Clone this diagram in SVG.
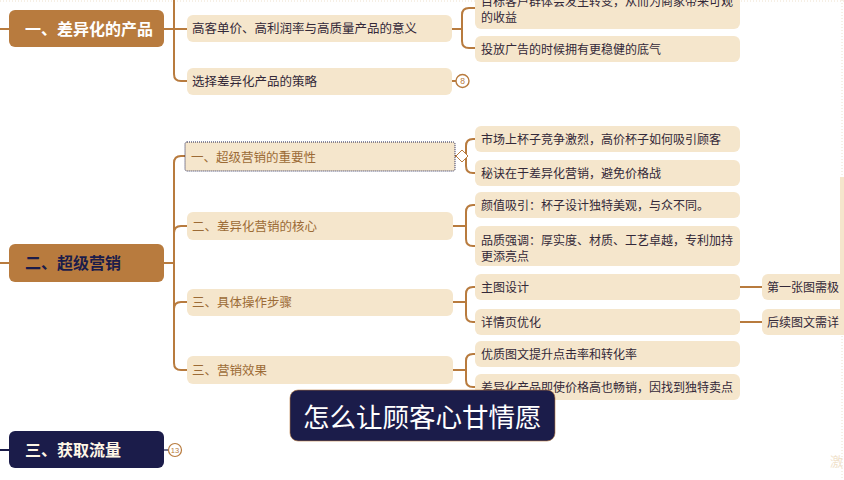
<svg xmlns="http://www.w3.org/2000/svg" width="844" height="480" viewBox="0 0 844 480">
<style>
.root{fill:#B87B3E}
.rootn{fill:#1B1C4A}
.node{fill:#F5E6CC}
.t{font-family:"Noto Sans CJK SC","Noto Sans",sans-serif;font-size:12px;fill:#332838}
.tb{font-family:"Noto Sans CJK SC","Noto Sans",sans-serif;font-size:12.5px;fill:#9C6B36}
.rt{font-family:"Noto Sans CJK SC","Noto Sans",sans-serif;font-size:16px;font-weight:bold}
.c{fill:none;stroke:#B87B3E;stroke-width:2}
.fold{fill:#fff;stroke:#B87B3E;stroke-width:1.4}
.ft{font-family:"Liberation Sans",sans-serif;font-size:8.5px;fill:#B87B3E;text-anchor:middle}
</style>
<rect width="844" height="480" fill="#fff"/>
<line x1="0" y1="1" x2="844" y2="1" stroke="#EDE0CC" stroke-dasharray="1,2"/>
<line x1="842" y1="0" x2="842" y2="480" stroke="#EDE0CC" stroke-dasharray="1,2"/>
<rect x="840" y="177" width="4" height="143" fill="#F5E6CC"/>
<text x="830" y="466" class="t" style="fill:#F0E2CC;font-size:13px">激</text>

<g id="connectors">
  <path class="c" d="M0 29H9"/>
  <path class="c" d="M164 29H187"/>
  <path class="c" d="M174 0V74Q174 81 181 81H187"/>
  <path class="c" d="M452 29H462"/>
  <path class="c" d="M475 8H469Q462 8 462 15V41Q462 48 469 48H475"/>
  <path class="c" d="M452 81H456"/>
  <path class="c" d="M0 263H9"/>
  <path class="c" d="M164 263H174"/>
  <path class="c" d="M186 156H181Q174 156 174 163V363Q174 370 181 370H187"/>
  <path class="c" d="M187 226H181Q174 226 174 233"/>
  <path class="c" d="M187 302H181Q174 302 174 309"/>
  <path class="c" d="M455 156H466"/>
  <path class="c" d="M475 139H473Q466 139 466 146V166Q466 173 473 173H475"/>
  <path class="c" d="M453 226H466"/>
  <path class="c" d="M475 205H473Q466 205 466 212V239Q466 246 473 246H475"/>
  <path class="c" d="M453 302H466"/>
  <path class="c" d="M475 287H473Q466 287 466 294V315Q466 322 473 322H475"/>
  <path class="c" d="M740 287H762"/>
  <path class="c" d="M740 322H762"/>
  <path class="c" d="M453 370H466"/>
  <path class="c" d="M475 354H473Q466 354 466 361V380Q466 387 473 387H475"/>
  <path d="M0 450H9" stroke="#1B1C4A" stroke-width="2"/>
  <path d="M164 450H168" stroke="#1B1C4A" stroke-width="1.2"/>
</g>

<g id="n1">
  <rect class="root" x="9" y="10" width="155" height="37" rx="6"/>
  <text class="rt" x="25" y="35" fill="#fff">一、差异化的产品</text>
</g>
<g id="n1-1">
  <rect class="node" x="187" y="15" width="265" height="27" rx="6"/>
  <text class="t" x="192" y="33" style="font-size:12.5px">高客单价、高利润率与高质量产品的意义</text>
</g>
<g id="n1-1-1">
  <rect class="node" x="475" y="-12" width="265" height="41" rx="6"/>
  <text class="t" x="481" y="6">目标客户群体会发生转变，从而为商家带来可观</text>
  <text class="t" x="481" y="22">的收益</text>
</g>
<g id="n1-1-2">
  <rect class="node" x="475" y="36" width="265" height="26" rx="6"/>
  <text class="t" x="481" y="54">投放广告的时候拥有更稳健的底气</text>
</g>
<g id="n1-2">
  <rect class="node" x="187" y="68" width="265" height="27" rx="6"/>
  <text class="t" x="192" y="86" style="font-size:12.5px">选择差异化产品的策略</text>
  <circle class="fold" cx="462.5" cy="81" r="6.5"/>
  <text class="ft" x="462.5" y="84">8</text>
</g>

<g id="n2">
  <rect class="root" x="9" y="244" width="155" height="38" rx="6"/>
  <text class="rt" x="25" y="269" fill="#1B1C4A">二、超级营销</text>
</g>
<g id="n2-1">
  <rect class="node" x="185" y="142" width="270" height="29" rx="2" stroke="#1B1C4A" stroke-width="1" stroke-dasharray="1,1"/>
  <text class="tb" x="191" y="162">一、超级营销的重要性</text>
  <path d="M462 150L468 156L462 162L456 156Z" fill="#fff" stroke="#B87B3E" stroke-width="1"/>
</g>
<g id="n2-1-1">
  <rect class="node" x="475" y="126" width="265" height="26" rx="6"/>
  <text class="t" x="481" y="144">市场上杯子竞争激烈，高价杯子如何吸引顾客</text>
</g>
<g id="n2-1-2">
  <rect class="node" x="475" y="160" width="265" height="26" rx="6"/>
  <text class="t" x="481" y="178">秘诀在于差异化营销，避免价格战</text>
</g>
<g id="n2-2">
  <rect class="node" x="187" y="212" width="266" height="28" rx="6"/>
  <text class="tb" x="192" y="231">二、差异化营销的核心</text>
</g>
<g id="n2-2-1">
  <rect class="node" x="475" y="192" width="265" height="26" rx="6"/>
  <text class="t" x="481" y="210">颜值吸引：杯子设计独特美观，与众不同。</text>
</g>
<g id="n2-2-2">
  <rect class="node" x="475" y="226" width="265" height="40" rx="6"/>
  <text class="t" x="481" y="245">品质强调：厚实度、材质、工艺卓越，专利加持</text>
  <text class="t" x="481" y="261">更添亮点</text>
</g>
<g id="n2-3">
  <rect class="node" x="187" y="289" width="266" height="27" rx="6"/>
  <text class="tb" x="192" y="307">三、具体操作步骤</text>
</g>
<g id="n2-3-1">
  <rect class="node" x="475" y="274" width="265" height="26" rx="6"/>
  <text class="t" x="481" y="292">主图设计</text>
</g>
<g id="n2-3-1-1">
  <rect class="node" x="762" y="274" width="90" height="26" rx="6"/>
  <text class="t" x="767" y="292">第一张图需极</text>
</g>
<g id="n2-3-2">
  <rect class="node" x="475" y="309" width="265" height="26" rx="6"/>
  <text class="t" x="481" y="327">详情页优化</text>
</g>
<g id="n2-3-2-1">
  <rect class="node" x="762" y="309" width="90" height="26" rx="6"/>
  <text class="t" x="767" y="327">后续图文需详</text>
</g>
<g id="n2-4">
  <rect class="node" x="187" y="356" width="266" height="28" rx="6"/>
  <text class="tb" x="192" y="375">三、营销效果</text>
</g>
<g id="n2-4-1">
  <rect class="node" x="475" y="341" width="265" height="26" rx="6"/>
  <text class="t" x="481" y="359">优质图文提升点击率和转化率</text>
</g>
<g id="n2-4-2">
  <rect class="node" x="475" y="374" width="265" height="26" rx="6"/>
  <text class="t" x="481" y="392">差异化产品即使价格高也畅销，因找到独特卖点</text>
</g>

<g id="n3">
  <rect class="rootn" x="9" y="431" width="155" height="37" rx="6"/>
  <text class="rt" x="25" y="456" fill="#FFF6E6">三、获取流量</text>
  <circle cx="175" cy="450" r="6.5" fill="#fff" stroke="#B87B3E" stroke-width="1.2"/>
  <text class="ft" x="175" y="453" style="font-size:7.5px">13</text>
</g>

<g id="subtitle">
  <rect x="290" y="390" width="265" height="51" rx="8" fill="#1B1C4A" stroke="#B87B3E" stroke-width="0.6"/>
  <text x="303" y="427" font-family="Noto Sans CJK SC, Noto Sans, sans-serif" font-size="26.5" fill="#fff">怎么让顾客心甘情愿</text>
</g>
</svg>
